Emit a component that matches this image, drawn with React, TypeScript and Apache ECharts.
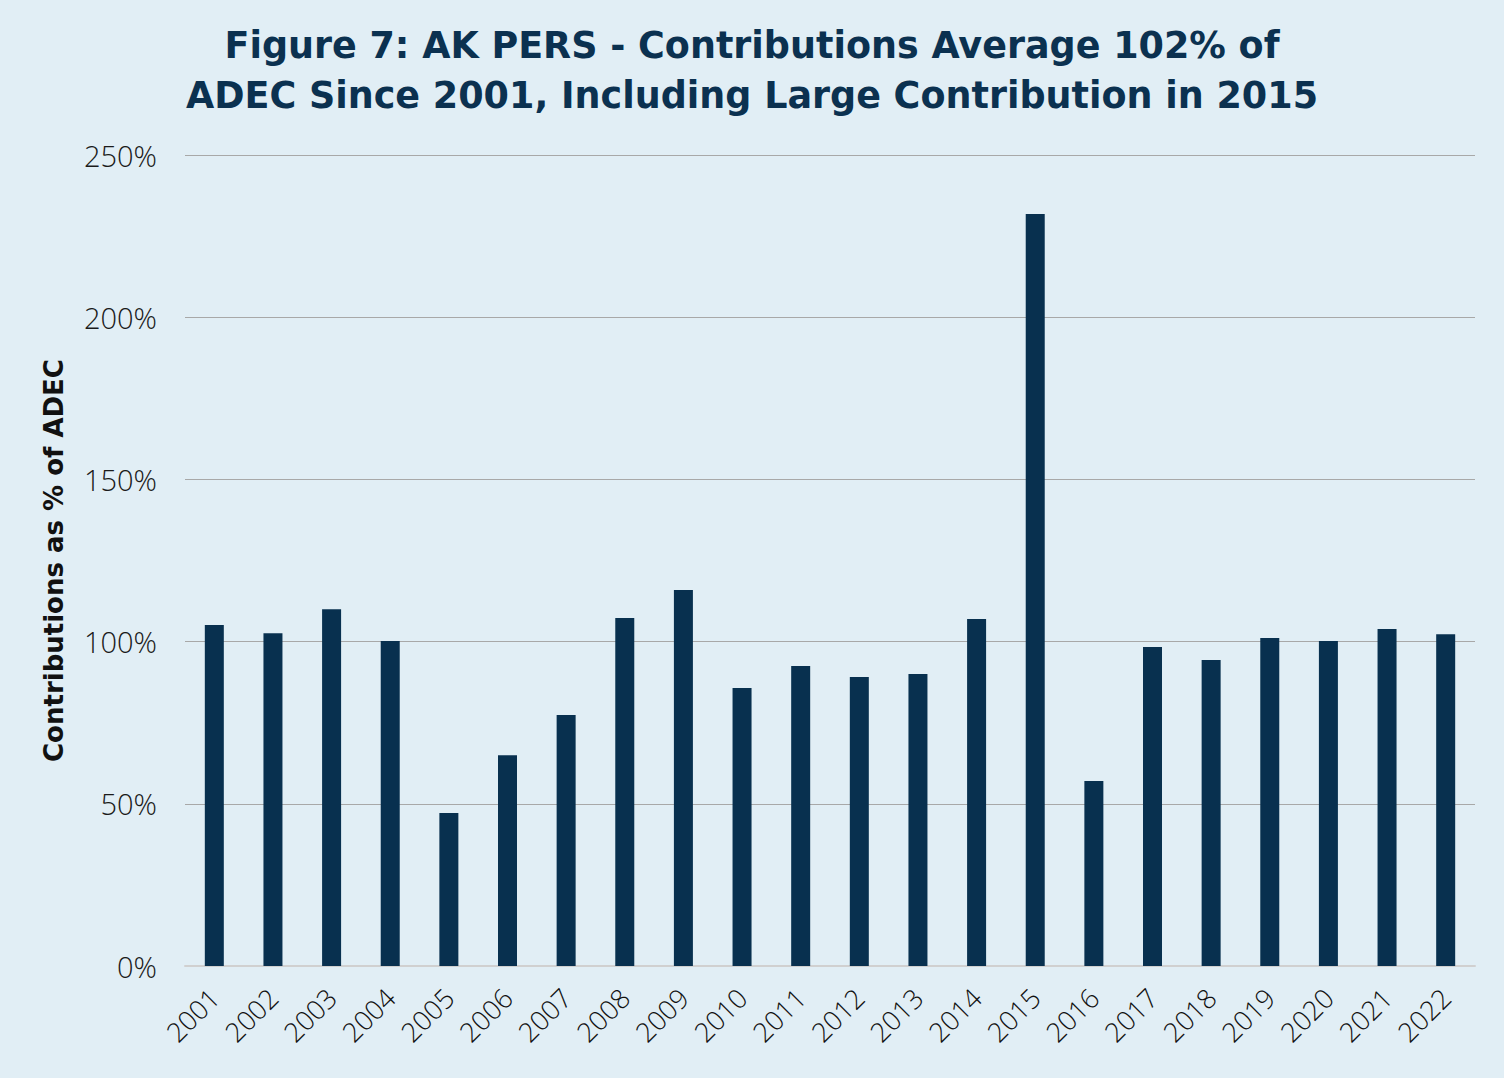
import React, { useEffect, useRef } from "react";
import * as echarts from "echarts";

const years = ["2001","2002","2003","2004","2005","2006","2007","2008","2009","2010","2011","2012","2013","2014","2015","2016","2017","2018","2019","2020","2021","2022"];
const contributionPct = [105.1,102.6,110.0,100.2,47.2,65.0,77.4,107.3,115.9,85.7,92.5,89.1,90.0,107.0,231.8,57.0,98.3,94.3,101.1,100.2,103.9,102.3];
const titleLine1Bold = "Figure 7:";
const titleLine1Rest = " AK PERS - Contributions Average 102% of";
const titleLine2 = "ADEC Since 2001, Including Large Contribution in 2015";
const yAxisName = "Contributions as % of ADEC";

export default function App() {
  const ref = useRef<HTMLDivElement>(null);
  useEffect(() => {
    const chart = echarts.init(ref.current!, null, { renderer: "svg" });
    chart.setOption({
      animation: false,
      backgroundColor: "#e1eef5",
      title: {
        text: "{b|" + titleLine1Bold + "}{a|" + titleLine1Rest + "}\n{a|" + titleLine2 + "}",
        left: "center",
        top: 15,
        textStyle: {
          rich: {
            b: { fontFamily: "DejaVu Sans", fontWeight: 900, fontSize: 36.5, color: "#0b3150", lineHeight: 50 },
            a: { fontFamily: "DejaVu Sans", fontWeight: 700, fontSize: 36.5, color: "#0b3150", lineHeight: 50 },
          },
        },
      },
      grid: { left: 185, right: 29, top: 155, bottom: 112, containLabel: false },
      xAxis: {
        type: "category",
        data: years,
        axisTick: { show: false },
        axisLine: { lineStyle: { color: "#d0d0d0", width: 2 } },
        axisLabel: {
          rotate: 45,
          fontFamily: "Open Sans",
          fontWeight: 300,
          fontSize: 27,
          color: "#111",
          margin: 27,
        },
      },
      yAxis: {
        type: "value",
        min: 0,
        max: 250,
        interval: 50,
        name: yAxisName,
        nameLocation: "middle",
        nameGap: 118,
        nameTextStyle: { fontFamily: "DejaVu Sans", fontWeight: 700, fontSize: 26, color: "#111" },
        axisLabel: {
          formatter: "{value}%",
          fontFamily: "Open Sans",
          fontWeight: 300,
          fontSize: 29,
          color: "#1a1a1a",
          margin: 28,
        },
        splitLine: { lineStyle: { color: "#a8a8a8", width: 1 } },
      },
      series: [
        {
          type: "bar",
          data: contributionPct,
          barWidth: 19,
          itemStyle: { color: "#08304f" },
        },
      ],
    });
    return () => chart.dispose();
  }, []);
  return <div ref={ref} style={{ position: "fixed", left: 0, top: 0, width: 1504, height: 1078 }} />;
}
